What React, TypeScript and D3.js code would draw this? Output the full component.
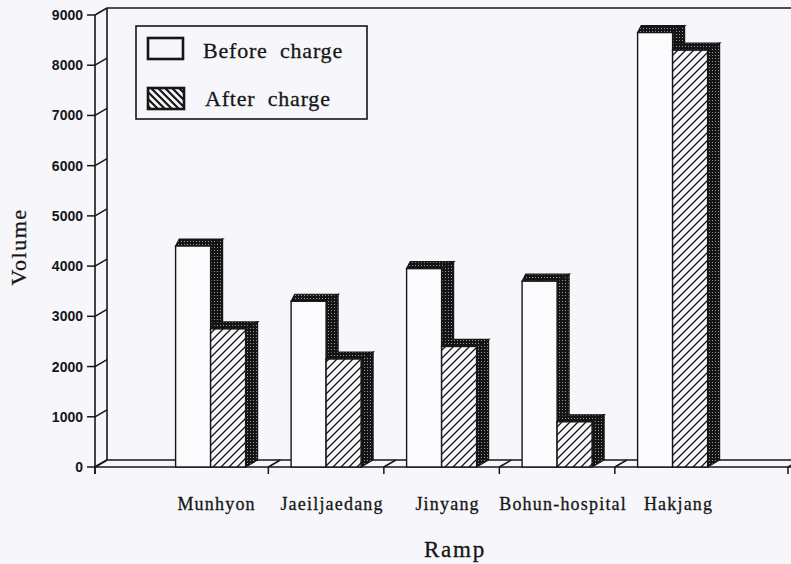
import React from "react";
import * as d3 from "d3";

const categories = ["Munhyon", "Jaeiljaedang", "Jinyang", "Bohun-hospital", "Hakjang"];
const beforeCharge = [4400, 3300, 3950, 3700, 8650];
const afterCharge = [2750, 2150, 2400, 900, 8300];
const seriesNames = ["Before charge", "After charge"];
const yTickValues = [0, 1000, 2000, 3000, 4000, 5000, 6000, 7000, 8000, 9000];

const W = 791;
const H = 564;
const INK = "#161616";
const PAPER = "#f7f7fb";
// depth of the pseudo-3D projection
const DX = 12;
const DY = 7;

const serif = "'Liberation Serif', 'Times New Roman', serif";

export default function App() {
  const axisLeft = 95;
  const axisRight = 788;
  const y = d3.scaleLinear().domain([0, 9000]).range([467, 15]);
  const x = d3.scalePoint<string>().domain(categories).range([210.6, 672.6]);
  const step = x.step();
  const inner = d3.scaleBand<string>().domain(seriesNames).range([-35, 35]).padding(0);
  const base = y(0);

  const xTicks = [axisLeft, ...categories.slice(0, -1).map((c) => (x(c) as number) + step / 2), axisRight];

  const bar = (cx: number, key: string, v: number, fill: string, k: string) => {
    const x0 = cx + (inner(key) as number);
    const x1 = x0 + inner.bandwidth();
    const top = y(v);
    const topFace = `M${x0},${top} L${x0 + DX * 0.3},${top - DY} L${x1 + DX},${top - DY} L${x1},${top} Z`;
    const sideFace = `M${x1},${top} L${x1 + DX},${top - DY} L${x1 + DX},${base - DY} L${x1},${base} Z`;
    return (
      <g key={k}>
        <path d={topFace} fill="url(#stipple)" stroke={INK} strokeWidth={1.2} />
        <path d={sideFace} fill="url(#stipple)" stroke={INK} strokeWidth={1.2} />
        <rect x={x0} y={top} width={x1 - x0} height={base - top} fill={fill} stroke={INK} strokeWidth={1.4} />
      </g>
    );
  };

  return (
    <svg width={W} height={H} style={{ position: "absolute", left: 0, top: 0, background: PAPER }}>
      <defs>
        <pattern id="stipple" width={3} height={3} patternUnits="userSpaceOnUse">
          <rect width={3} height={3} fill="#141414" />
          <rect x={1} y={1} width={1} height={1} fill="#9a9a9a" />
        </pattern>
        <pattern id="hatch" width={8} height={8} patternUnits="userSpaceOnUse">
          <rect width={8} height={8} fill={PAPER} />
          <path d="M-2,2 L2,-2 M0,8 L8,0 M6,10 L10,6" stroke={INK} strokeWidth={1.3} />
        </pattern>
        <pattern id="hatchLegend" width={7} height={7} patternUnits="userSpaceOnUse">
          <rect width={7} height={7} fill={PAPER} />
          <path d="M-2,5 L2,9 M0,0 L7,7 M5,-2 L9,2" stroke={INK} strokeWidth={2.2} />
        </pattern>
      </defs>
      <rect width={W} height={H} fill={PAPER} />

      {/* back wall and floor */}
      <g stroke={INK} fill="none" strokeWidth={1.6}>
        <line x1={axisLeft + DX} y1={y(9000) - DY} x2={W} y2={y(9000) - DY} />
        <line x1={axisLeft + DX} y1={y(9000) - DY} x2={axisLeft + DX} y2={base - DY} />
        <line x1={axisLeft + DX} y1={base - DY} x2={W} y2={base - DY} />
        <line x1={axisLeft} y1={base} x2={W} y2={base} />
        <line x1={axisLeft} y1={y(9000)} x2={axisLeft} y2={base + 7} />
      </g>

      {/* y axis ticks */}
      <g stroke={INK} strokeWidth={1.5}>
        {yTickValues.map((v) => (
          <g key={v}>
            <line x1={axisLeft - 8} y1={y(v)} x2={axisLeft} y2={y(v)} />
            <line x1={axisLeft} y1={y(v)} x2={axisLeft + DX} y2={y(v) - DY} />
          </g>
        ))}
      </g>
      <g fontFamily="'Liberation Sans', Arial, sans-serif" fontWeight="bold" fontSize={14} fill={INK}>
        {yTickValues.map((v) => (
          <text key={v} x={axisLeft - 12} y={y(v) + 5} textAnchor="end">
            {v}
          </text>
        ))}
      </g>

      {/* x axis ticks */}
      <g stroke={INK} strokeWidth={1.5}>
        {xTicks.map((t, i) => (
          <g key={i}>
            <line x1={t} y1={base} x2={t} y2={base + 7} />
            <line x1={t} y1={base} x2={t + DX} y2={base - DY} />
          </g>
        ))}
      </g>

      {/* bars */}
      {categories.map((c, i) => {
        const cx = x(c) as number;
        return (
          <g key={c}>
            {bar(cx, seriesNames[0], beforeCharge[i], "#fbfbfd", "b")}
            {bar(cx, seriesNames[1], afterCharge[i], "url(#hatch)", "a")}
          </g>
        );
      })}

      {/* category labels */}
      <g fontFamily={serif} fontSize={18} fill={INK} stroke={INK} strokeWidth={0.3} letterSpacing={1.2}>
        {categories.map((c) => (
          <text key={c} x={(x(c) as number) + 6} y={510} textAnchor="middle">
            {c}
          </text>
        ))}
      </g>
      <text
        x={455}
        y={557}
        textAnchor="middle"
        fontFamily={serif}
        fontSize={23}
        fill={INK}
        stroke={INK}
        strokeWidth={0.3}
        letterSpacing={1.8}
      >
        Ramp
      </text>
      <text
        transform="translate(26,247) rotate(-90)"
        textAnchor="middle"
        fontFamily={serif}
        fontSize={22}
        fill={INK}
        stroke={INK}
        strokeWidth={0.3}
        letterSpacing={1.5}
      >
        Volume
      </text>

      {/* legend */}
      <rect x={136} y={26} width={231} height={93} fill={PAPER} stroke={INK} strokeWidth={1.6} />
      <rect x={148} y={38} width={35} height={21} fill={PAPER} stroke={INK} strokeWidth={2.6} />
      <rect x={148} y={88} width={36} height={21} fill="url(#hatchLegend)" stroke={INK} strokeWidth={2.6} />
      <g fontFamily={serif} fontSize={22} fill={INK} stroke={INK} strokeWidth={0.3} letterSpacing={0.8} wordSpacing={6}>
        <text x={203} y={58}>
          {seriesNames[0]}
        </text>
        <text x={205} y={106}>
          {seriesNames[1]}
        </text>
      </g>
    </svg>
  );
}
